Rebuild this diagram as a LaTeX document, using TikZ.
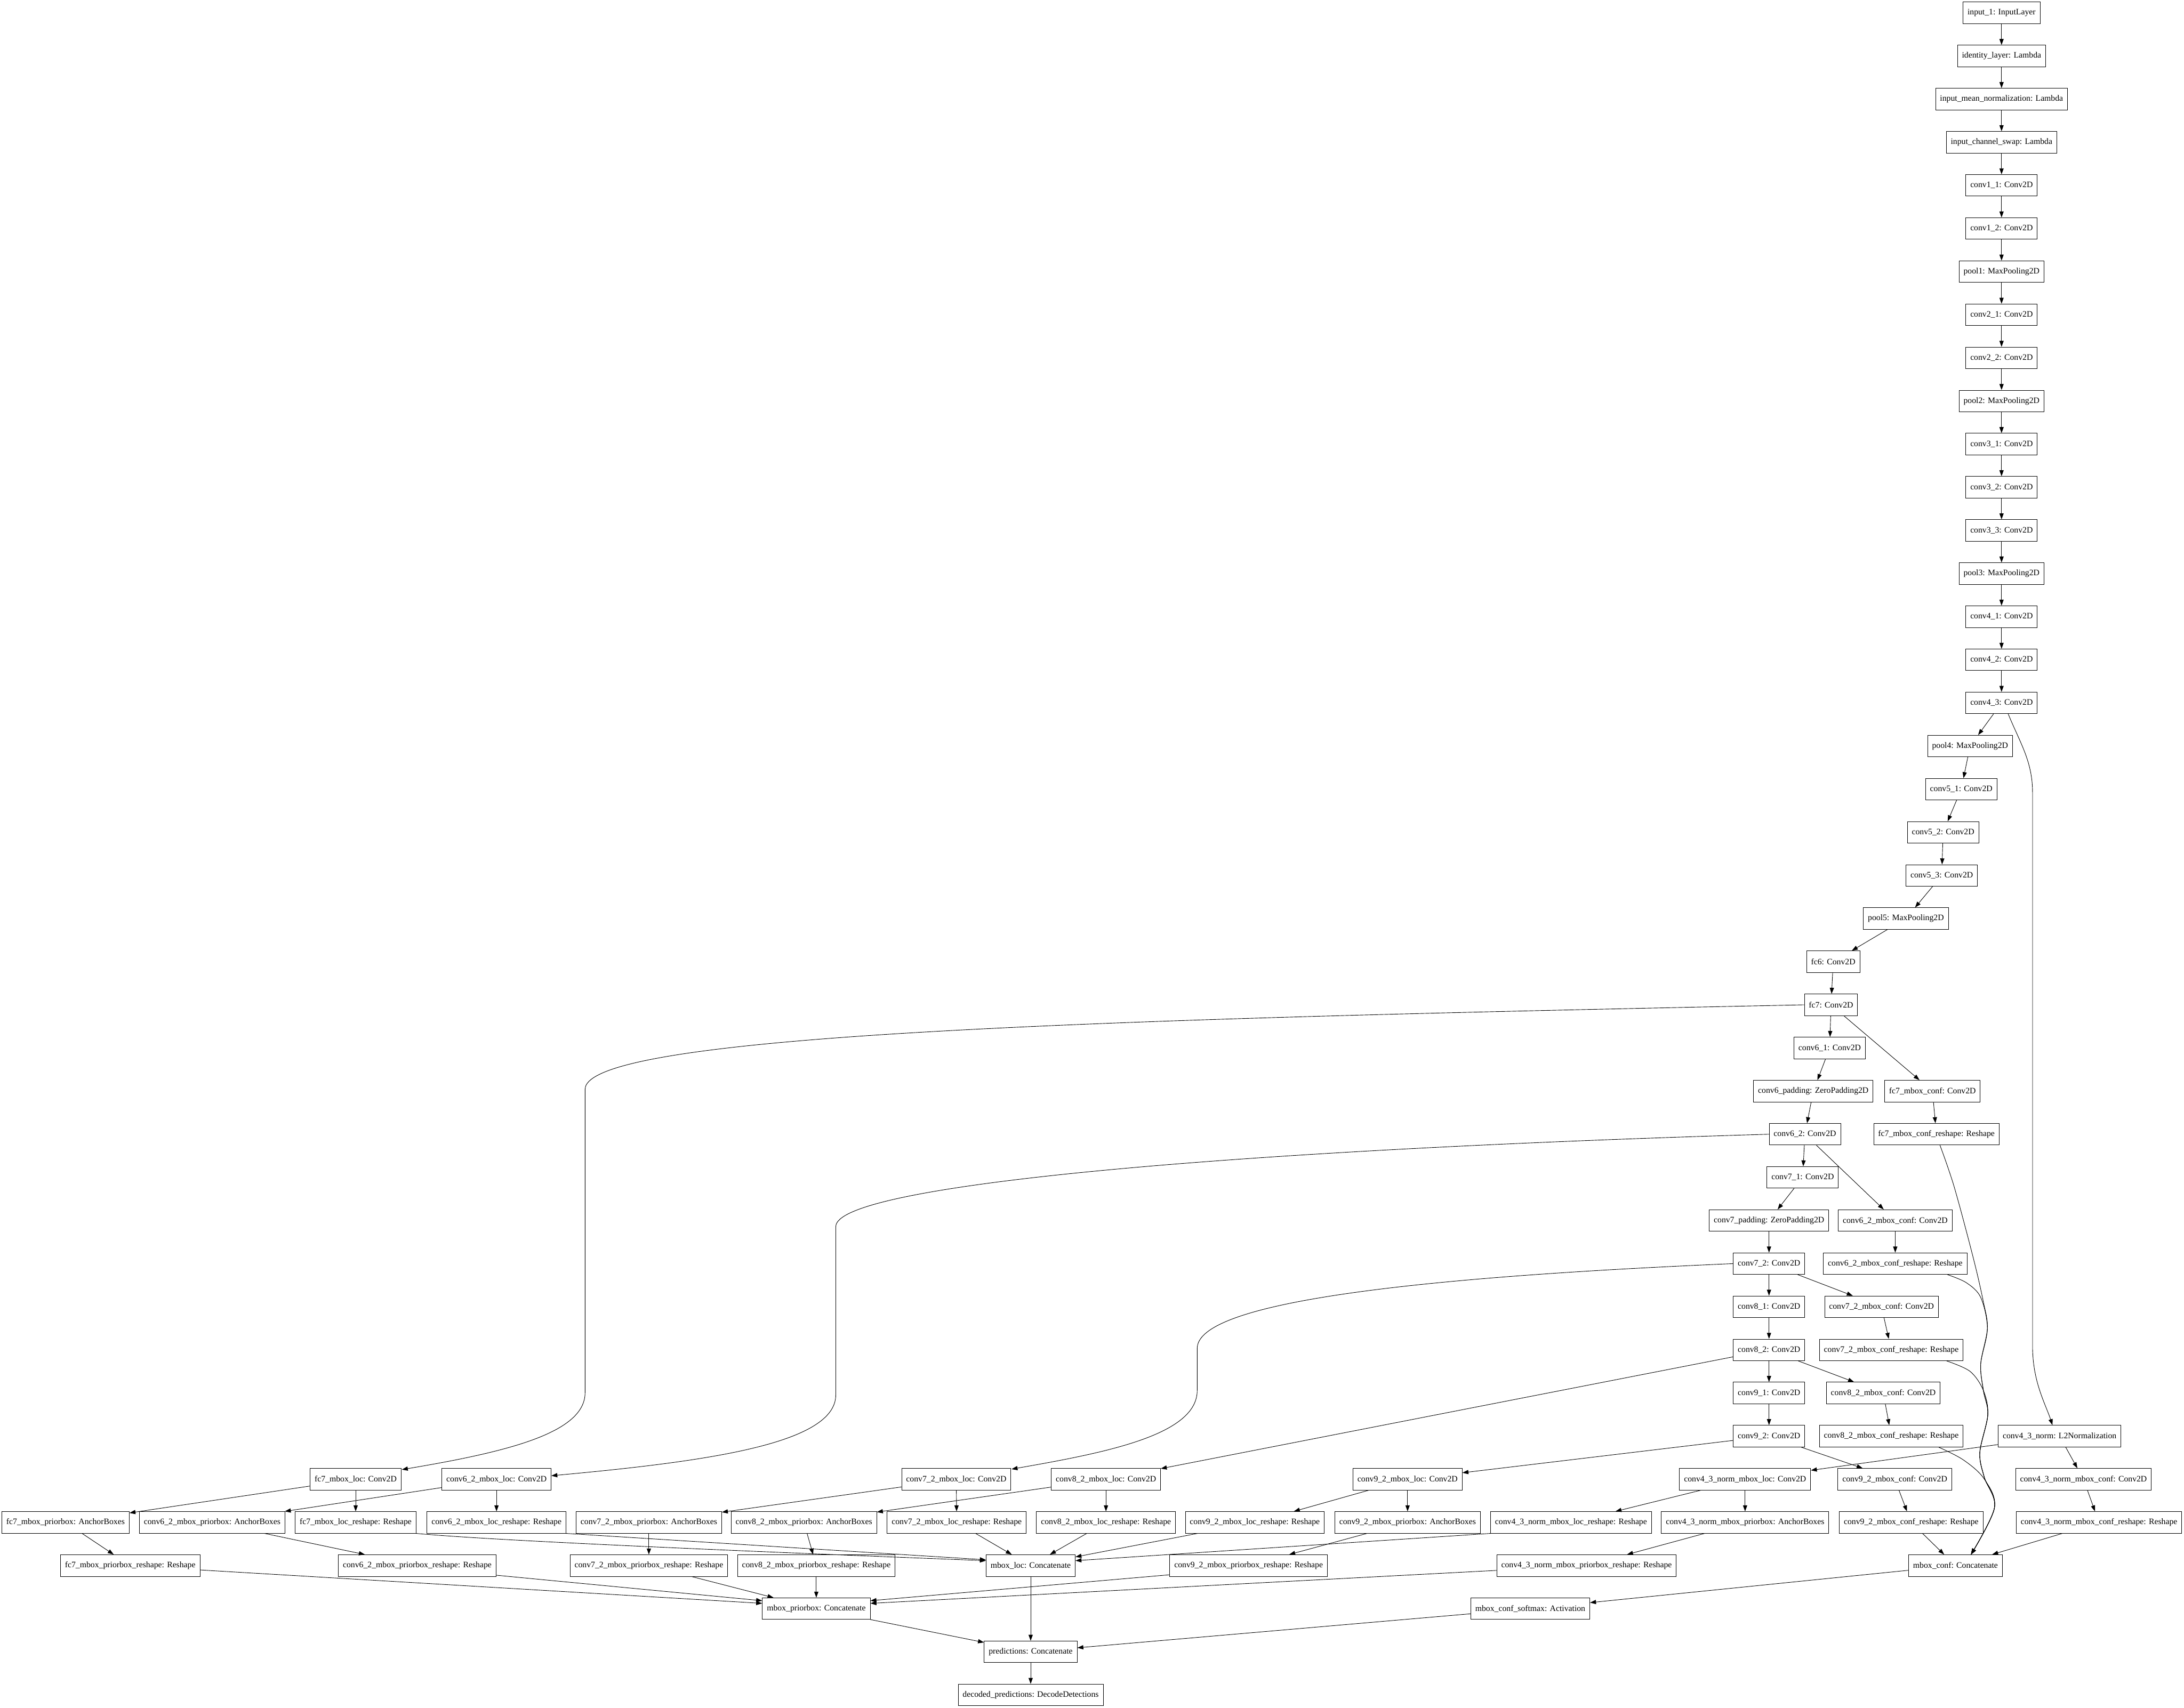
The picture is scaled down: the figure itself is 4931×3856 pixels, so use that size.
\documentclass[tikz,border=0pt]{standalone}
\usepackage{fontspec}
\setmainfont{Liberation Serif}
\usetikzlibrary{arrows.meta,calc}
\begin{document}
\begin{tikzpicture}[x=0.7392pt,y=-0.7392pt,
  box/.style={draw,line width=0.8pt,rectangle,minimum height=36pt,inner xsep=7.5pt,inner ysep=0pt,
    font=\fontsize{14}{17}\selectfont,fill=white},
  e/.style={line width=0.8pt,-{Triangle[length=10pt,width=7pt]}}]
\fill[white] (0,0) rectangle (4931,3856);
\useasboundingbox (0,0) rectangle (4931,3856);
% main column
\node[box] (n0) at (4519,29) {input\_1: InputLayer};
\node[box] (n1) at (4519,126.4) {identity\_layer: Lambda};
\node[box] (n2) at (4519,223.8) {input\_mean\_normalization: Lambda};
\node[box] (n3) at (4519,321.2) {input\_channel\_swap: Lambda};
\node[box] (n4) at (4519,418.6) {conv1\_1: Conv2D};
\node[box] (n5) at (4519,516) {conv1\_2: Conv2D};
\node[box] (n6) at (4519,613.4) {pool1: MaxPooling2D};
\node[box] (n7) at (4519,710.8) {conv2\_1: Conv2D};
\node[box] (n8) at (4519,808.2) {conv2\_2: Conv2D};
\node[box] (n9) at (4519,905.6) {pool2: MaxPooling2D};
\node[box] (n10) at (4519,1003) {conv3\_1: Conv2D};
\node[box] (n11) at (4519,1100.4) {conv3\_2: Conv2D};
\node[box] (n12) at (4519,1197.8) {conv3\_3: Conv2D};
\node[box] (n13) at (4519,1295.2) {pool3: MaxPooling2D};
\node[box] (n14) at (4519,1392.6) {conv4\_1: Conv2D};
\node[box] (n15) at (4519,1490) {conv4\_2: Conv2D};
\node[box] (n16) at (4519,1587.4) {conv4\_3: Conv2D};
\node[box] (pool4) at (4448,1684.8) {pool4: MaxPooling2D};
\node[box] (c51) at (4428,1782.2) {conv5\_1: Conv2D};
\node[box] (c52) at (4387,1879.6) {conv5\_2: Conv2D};
\node[box] (c53) at (4384,1977) {conv5\_3: Conv2D};
\node[box] (pool5) at (4303,2074.4) {pool5: MaxPooling2D};
\node[box] (fc6) at (4139,2171.8) {fc6: Conv2D};
\node[box] (fc7) at (4134,2269.2) {fc7: Conv2D};
\node[box] (c61) at (4131,2366.6) {conv6\_1: Conv2D};
\node[box] (c6pad) at (4094,2464) {conv6\_padding: ZeroPadding2D};
\node[box] (fc7conf) at (4363,2464) {fc7\_mbox\_conf: Conv2D};
\node[box] (c62) at (4075,2561.4) {conv6\_2: Conv2D};
\node[box] (fc7confr) at (4372,2561.4) {fc7\_mbox\_conf\_reshape: Reshape};
\node[box] (c71) at (4070,2658.8) {conv7\_1: Conv2D};
\node[box] (c7pad) at (3994,2756.2) {conv7\_padding: ZeroPadding2D};
\node[box] (c62conf) at (4279,2756.2) {conv6\_2\_mbox\_conf: Conv2D};
\node[box] (c72) at (3994,2853.6) {conv7\_2: Conv2D};
\node[box] (c62confr) at (4279,2853.6) {conv6\_2\_mbox\_conf\_reshape: Reshape};
\node[box] (c81) at (3994,2951) {conv8\_1: Conv2D};
\node[box] (c72conf) at (4248,2951) {conv7\_2\_mbox\_conf: Conv2D};
\node[box] (c82) at (3994,3048.4) {conv8\_2: Conv2D};
\node[box] (c72confr) at (4270,3048.4) {conv7\_2\_mbox\_conf\_reshape: Reshape};
\node[box] (c91) at (3994,3145.8) {conv9\_1: Conv2D};
\node[box] (c82conf) at (4252,3145.8) {conv8\_2\_mbox\_conf: Conv2D};
\node[box] (c92) at (3994,3243.2) {conv9\_2: Conv2D};
\node[box] (c82confr) at (4270,3243.2) {conv8\_2\_mbox\_conf\_reshape: Reshape};
\node[box] (c43n) at (4650,3243.2) {conv4\_3\_norm: L2Normalization};
% row 34
\node[box] (fc7loc) at (803,3340.6) {fc7\_mbox\_loc: Conv2D};
\node[box] (c62loc) at (1121,3340.6) {conv6\_2\_mbox\_loc: Conv2D};
\node[box] (c72loc) at (2159,3340.6) {conv7\_2\_mbox\_loc: Conv2D};
\node[box] (c82loc) at (2497,3340.6) {conv8\_2\_mbox\_loc: Conv2D};
\node[box] (c92loc) at (3178,3340.6) {conv9\_2\_mbox\_loc: Conv2D};
\node[box] (c43nloc) at (3940,3340.6) {conv4\_3\_norm\_mbox\_loc: Conv2D};
\node[box] (c92conf) at (4278,3340.6) {conv9\_2\_mbox\_conf: Conv2D};
\node[box] (c43nconf) at (4704,3340.6) {conv4\_3\_norm\_mbox\_conf: Conv2D};
% row 35
\node[box] (fc7pb) at (148,3438) {fc7\_mbox\_priorbox: AnchorBoxes};
\node[box] (c62pb) at (479,3438) {conv6\_2\_mbox\_priorbox: AnchorBoxes};
\node[box] (fc7locr) at (803,3438) {fc7\_mbox\_loc\_reshape: Reshape};
\node[box] (c62locr) at (1121,3438) {conv6\_2\_mbox\_loc\_reshape: Reshape};
\node[box] (c72pb) at (1465,3438) {conv7\_2\_mbox\_priorbox: AnchorBoxes};
\node[box] (c82pb) at (1815,3438) {conv8\_2\_mbox\_priorbox: AnchorBoxes};
\node[box] (c72locr) at (2160,3438) {conv7\_2\_mbox\_loc\_reshape: Reshape};
\node[box] (c82locr) at (2497,3438) {conv8\_2\_mbox\_loc\_reshape: Reshape};
\node[box] (c92locr) at (2833,3438) {conv9\_2\_mbox\_loc\_reshape: Reshape};
\node[box] (c92pb) at (3178,3438) {conv9\_2\_mbox\_priorbox: AnchorBoxes};
\node[box] (c43nlocr) at (3547,3438) {conv4\_3\_norm\_mbox\_loc\_reshape: Reshape};
\node[box] (c43npb) at (3940,3438) {conv4\_3\_norm\_mbox\_priorbox: AnchorBoxes};
\node[box] (c92confr) at (4315,3438) {conv9\_2\_mbox\_conf\_reshape: Reshape};
\node[box] (c43nconfr) at (4739,3438) {conv4\_3\_norm\_mbox\_conf\_reshape: Reshape};
% row 36
\node[box] (fc7pbr) at (294,3535.4) {fc7\_mbox\_priorbox\_reshape: Reshape};
\node[box] (c62pbr) at (942,3535.4) {conv6\_2\_mbox\_priorbox\_reshape: Reshape};
\node[box] (c72pbr) at (1465,3535.4) {conv7\_2\_mbox\_priorbox\_reshape: Reshape};
\node[box] (c82pbr) at (1843,3535.4) {conv8\_2\_mbox\_priorbox\_reshape: Reshape};
\node[box] (mboxloc) at (2327,3535.4) {mbox\_loc: Concatenate};
\node[box] (c92pbr) at (2819,3535.4) {conv9\_2\_mbox\_priorbox\_reshape: Reshape};
\node[box] (c43npbr) at (3582,3535.4) {conv4\_3\_norm\_mbox\_priorbox\_reshape: Reshape};
\node[box] (mboxconf) at (4415,3535.4) {mbox\_conf: Concatenate};
% rows 37-39
\node[box] (mboxpb) at (1843,3632.8) {mbox\_priorbox: Concatenate};
\node[box] (softmax) at (3455,3632.8) {mbox\_conf\_softmax: Activation};
\node[box] (pred) at (2327,3730.2) {predictions: Concatenate};
\node[box] (dec) at (2327,3827.6) {decoded\_predictions: DecodeDetections};
% straight connectors
\foreach \a/\b in {n0/n1,n1/n2,n2/n3,n3/n4,n4/n5,n5/n6,n6/n7,n7/n8,n8/n9,n9/n10,n10/n11,n11/n12,n12/n13,n13/n14,n14/n15,n15/n16,
  n16/pool4,pool4/c51,c51/c52,c52/c53,c53/pool5,pool5/fc6,fc6/fc7,
  fc7/c61,fc7/fc7conf,c61/c6pad,c6pad/c62,fc7conf/fc7confr,
  c62/c71,c62/c62conf,c71/c7pad,c7pad/c72,c62conf/c62confr,
  c72/c81,c72/c72conf,c81/c82,c72conf/c72confr,
  c82/c91,c82/c82conf,c91/c92,c82conf/c82confr,
  c82/c82loc,c92/c92loc,c92/c92conf,c43n/c43nloc,c43n/c43nconf,
  fc7loc/fc7pb,fc7loc/fc7locr,c62loc/c62pb,c62loc/c62locr,
  c72loc/c72pb,c72loc/c72locr,c82loc/c82pb,c82loc/c82locr,
  c92loc/c92locr,c92loc/c92pb,c43nloc/c43nlocr,c43nloc/c43npb,
  c92conf/c92confr,c43nconf/c43nconfr,
  fc7pb/fc7pbr,c62pb/c62pbr,c72pb/c72pbr,c82pb/c82pbr,c92pb/c92pbr,c43npb/c43npbr,
  c72locr/mboxloc,c82locr/mboxloc,c92locr/mboxloc,
  c72pbr/mboxpb,c82pbr/mboxpb,
  c92confr/mboxconf,c43nconfr/mboxconf,
  mboxconf/softmax,mboxpb/pred,mboxloc/pred,softmax/pred,pred/dec}
  \draw[e] (\a) -- (\b);
% long curved connectors
\draw[e] (fc7.west) .. controls (2600,2300) and (1321,2330) .. (1321,2460) -- (1321,3145)
  .. controls (1321,3235) and (1150,3278) .. ($(fc7loc.north east)+(1,3)$);
\draw[e] (c62.west) .. controls (2700,2600) and (1887,2680) .. (1887,2770) -- (1887,3150)
  .. controls (1887,3260) and (1600,3300) .. ($(c62loc.east)+(0,-8)$);
\draw[e] (c72.west) .. controls (3300,2880) and (2703,2930) .. (2703,3045) -- (2703,3140)
  .. controls (2703,3240) and (2500,3280) .. ($(c72loc.north east)+(1,2)$);
\draw[e] ($(n16.south)+(15,0)$) .. controls (4562,1680) and (4589,1720) .. (4589,1790) -- (4589,3040)
  .. controls (4589,3120) and (4618,3170) .. ($(c43n.north)+(-16,0)$);
% connectors into mbox_loc
\draw[e] (fc7locr.south east) .. controls (1100,3478) and (1600,3500) .. ($(mboxloc.west)+(0,-11)$);
\draw[e] (c62locr.south east) -- ($(mboxloc.west)+(0,-13)$);
\draw[e] (c43nlocr.south west) -- ($(mboxloc.east)+(0,-11)$);
% connectors into mbox_priorbox
\draw[e] ($(fc7pbr.east)+(0,10)$) -- ($(mboxpb.west)+(0,-12)$);
\draw[e] ($(c62pbr.south east)+(0,-3)$) -- ($(mboxpb.west)+(0,-18)$);
\draw[e] ($(c92pbr.south west)+(0,-4)$) -- ($(mboxpb.east)+(0,-18)$);
\draw[e] ($(c43npbr.west)+(0,11)$) -- ($(mboxpb.east)+(0,-12)$);
% connectors into mbox_conf
\coordinate (t) at ($(mboxconf.north)+(35,0)$);
\coordinate (s1) at ($(fc7confr.south)+(8,0)$);
\coordinate (s2) at ($(c62confr.south)+(118,0)$);
\coordinate (s3) at ($(c72confr.south)+(125,0)$);
\coordinate (s4) at ($(c82confr.south)+(107,0)$);
\draw[e] plot[smooth,tension=0.55] coordinates {(s1) (4412,2680) (4455,2840) (4478,2940) (4487,3000) (4472,3080) (4478,3140) (4488,3195) (4470,3280) (4480,3336) (4503,3405) (t)};
\draw[e] plot[smooth,tension=0.55] coordinates {(s2) (4440,2897) (4472,2930) (4487,3000) (4472,3080) (4478,3140) (4488,3195) (4470,3280) (4480,3336) (4503,3405) (t)};
\draw[e] plot[smooth,tension=0.55] coordinates {(s3) (4448,3097) (4478,3140) (4488,3195) (4470,3280) (4480,3336) (4503,3405) (t)};
\draw[e] plot[smooth,tension=0.55] coordinates {(s4) (4433,3297) (4480,3340) (4503,3405) (t)};
\end{tikzpicture}
\end{document}
